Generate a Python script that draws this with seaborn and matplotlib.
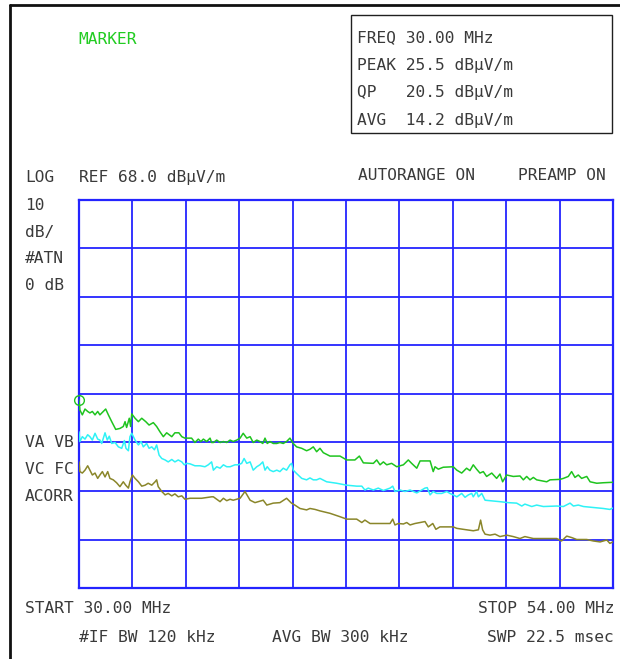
import numpy as np
import pandas as pd
import matplotlib
matplotlib.use("Agg")
import matplotlib.pyplot as plt
from matplotlib.lines import Line2D
from matplotlib.patches import Rectangle
import seaborn as sns

# ---------------- data ----------------
ref_level = 68.0          # dBuV/m, top of screen
db_per_div = 10
n_ydiv = 8
f_start, f_stop = 30.0, 54.0
n_xdiv = 10

peak_freq = [30.00, 30.04, 30.15, 30.27, 30.39, 30.49, 30.60, 30.72, 30.84, 30.94,
             31.09, 31.20, 31.32, 31.47, 31.65, 31.84, 31.99, 32.07, 32.14, 32.26,
             32.32, 32.37, 32.52, 32.67, 32.82, 33.00, 33.15, 33.34, 33.49, 33.64,
             33.79, 33.94, 34.17, 34.31, 34.49, 34.62, 34.76, 35.06, 35.21, 35.36,
             35.48, 35.59, 35.74, 35.89, 35.96, 36.04, 36.19, 36.34, 36.49, 36.64,
             36.79, 36.93, 37.09, 37.24, 37.38, 37.54, 37.69, 37.83, 37.99, 38.13,
             38.26, 38.36, 38.46, 38.58, 38.73, 38.89, 39.03, 39.18, 39.33, 39.48,
             39.63, 39.78, 40.01, 40.23, 40.38, 40.53, 40.68, 40.83, 40.98, 41.28,
             41.73, 42.03, 42.40, 42.60, 42.78, 43.23, 43.38, 43.53, 43.68, 43.83,
             44.05, 44.28, 44.58, 44.80, 44.95, 45.18, 45.33, 45.78, 45.92, 46.00,
             46.15, 46.37, 46.82, 46.98, 47.20, 47.42, 47.57, 47.72, 47.87, 48.02,
             48.17, 48.32, 48.55, 48.77, 48.92, 49.04, 49.22, 49.52, 49.82, 49.97,
             50.12, 50.27, 50.42, 50.57, 51.02, 51.17, 51.62, 51.77, 51.99, 52.14,
             52.29, 52.44, 52.59, 52.82, 52.97, 53.27, 53.56, 54.00]
peak_level = [26.8, 24.7, 23.7, 24.9, 24.4, 24.1, 24.4, 23.7, 24.4, 23.7,
              24.4, 24.9, 23.7, 22.3, 20.7, 20.9, 21.3, 22.3, 21.1, 23.0,
              21.3, 23.9, 23.0, 22.3, 23.0, 22.3, 21.6, 22.1, 21.3, 20.2,
              19.2, 20.0, 19.2, 20.0, 20.0, 19.2, 18.9, 18.9, 18.0, 18.7,
              18.2, 18.7, 18.2, 18.9, 18.0, 18.0, 18.5, 18.0, 18.2, 18.0,
              18.5, 18.2, 18.5, 18.9, 19.9, 18.9, 19.2, 18.0, 18.5, 18.2,
              17.8, 18.9, 17.8, 18.2, 17.8, 17.8, 18.0, 17.8, 18.2, 18.9,
              17.8, 17.1, 16.8, 16.3, 16.6, 17.1, 16.1, 16.8, 15.9, 15.2,
              15.2, 14.4, 14.4, 15.2, 13.8, 13.7, 14.4, 13.4, 14.0, 13.4,
              13.7, 13.0, 13.4, 14.4, 13.7, 12.7, 14.2, 14.2, 12.0, 13.0,
              12.5, 12.9, 13.0, 12.3, 11.7, 12.7, 12.2, 13.4, 12.5, 11.7,
              12.0, 11.0, 11.7, 10.6, 11.5, 9.9, 11.3, 11.0, 11.1, 10.3,
              11.0, 10.3, 10.8, 10.3, 9.9, 10.3, 10.4, 10.6, 11.0, 12.0,
              10.8, 11.3, 10.6, 11.0, 9.9, 9.6, 9.7, 9.8]

qp_freq = [30.00, 30.04, 30.15, 30.27, 30.39, 30.49, 30.60, 30.72, 30.84, 30.94,
           31.02, 31.17, 31.27, 31.36, 31.47, 31.62, 31.77, 31.92, 32.04, 32.11,
           32.22, 32.29, 32.37, 32.52, 32.67, 32.79, 32.89, 33.04, 33.15, 33.27,
           33.39, 33.49, 33.60, 33.72, 33.87, 34.01, 34.17, 34.31, 34.46, 34.62,
           34.73, 34.84, 34.99, 35.21, 35.44, 35.66, 35.81, 35.96, 36.04, 36.19,
           36.34, 36.49, 36.64, 36.79, 37.01, 37.16, 37.31, 37.42, 37.54, 37.69,
           37.83, 37.99, 38.13, 38.26, 38.36, 38.46, 38.58, 38.73, 38.89, 39.03,
           39.18, 39.33, 39.48, 39.56, 39.63, 39.78, 40.01, 40.23, 40.38, 40.53,
           40.68, 40.83, 41.13, 41.58, 42.03, 42.48, 42.71, 42.85, 43.00, 43.23,
           43.45, 43.68, 43.98, 44.10, 44.20, 44.43, 44.65, 44.88, 45.18, 45.40,
           45.55, 45.65, 45.78, 45.92, 46.08, 46.30, 46.53, 46.67, 46.82, 46.98,
           47.20, 47.35, 47.50, 47.65, 47.72, 47.87, 47.95, 48.10, 48.25, 48.47,
           48.92, 49.29, 49.67, 49.90, 50.04, 50.35, 50.57, 50.87, 51.47, 51.77,
           52.07, 52.22, 52.44, 52.67, 53.11, 53.56, 53.86, 54.00]
qp_level = [20.2, 18.2, 19.2, 18.7, 19.6, 19.2, 18.5, 19.9, 18.7, 18.5,
            17.8, 20.0, 18.5, 19.3, 17.8, 18.0, 17.1, 16.8, 18.4, 16.8,
            16.3, 19.2, 19.9, 18.5, 17.5, 18.2, 17.1, 17.8, 16.8, 17.1,
            16.5, 17.5, 15.4, 14.7, 14.4, 14.0, 14.5, 14.0, 14.4, 14.0,
            13.4, 13.7, 13.6, 13.2, 13.2, 13.0, 13.4, 14.0, 12.3, 13.0,
            12.7, 13.4, 13.0, 13.0, 13.4, 13.4, 13.7, 14.7, 13.7, 14.0,
            12.3, 13.0, 13.4, 14.0, 12.3, 13.0, 12.3, 12.0, 12.3, 12.0,
            12.7, 12.3, 13.4, 13.7, 12.3, 11.6, 10.6, 10.3, 10.7, 10.3,
            10.3, 10.6, 9.9, 9.6, 9.2, 9.0, 9.0, 8.2, 8.6, 8.2,
            8.6, 8.1, 8.6, 9.0, 7.9, 8.2, 7.9, 8.2, 7.6, 8.2,
            8.6, 8.7, 7.2, 7.9, 7.5, 7.5, 7.9, 7.5, 7.2, 6.8,
            7.5, 6.7, 7.2, 7.5, 6.8, 7.9, 6.8, 7.5, 6.1, 6.0,
            5.8, 5.6, 5.5, 4.9, 5.3, 4.8, 5.1, 4.8, 4.9, 4.8,
            5.5, 4.9, 5.1, 4.8, 4.6, 4.4, 4.2, 4.5]

avg_freq = [30.00, 30.04, 30.15, 30.27, 30.39, 30.49, 30.60, 30.72, 30.84, 30.94,
            31.05, 31.17, 31.29, 31.39, 31.54, 31.69, 31.84, 31.99, 32.10, 32.22,
            32.29, 32.40, 32.52, 32.67, 32.82, 32.97, 33.11, 33.27, 33.42, 33.49,
            33.56, 33.72, 33.87, 34.01, 34.17, 34.31, 34.46, 34.62, 34.76, 34.99,
            35.51, 35.96, 36.04, 36.19, 36.34, 36.49, 36.64, 36.79, 36.93, 37.24,
            37.46, 37.69, 37.91, 38.28, 38.44, 38.73, 39.03, 39.33, 39.55, 39.70,
            39.93, 40.23, 40.38, 40.61, 40.83, 41.28, 41.73, 42.03, 42.48, 42.71,
            42.85, 43.08, 43.38, 43.98, 44.10, 44.20, 44.35, 44.58, 44.73, 44.88,
            45.10, 45.33, 45.55, 45.70, 45.90, 46.04, 46.22, 46.53, 46.82, 46.98,
            47.27, 47.72, 47.95, 48.05, 48.14, 48.25, 48.47, 48.70, 48.92, 49.22,
            49.52, 49.82, 50.04, 50.42, 50.87, 51.47, 51.69, 51.92, 52.14, 52.37,
            52.82, 53.11, 53.42, 53.72, 53.86, 54.00]
avg_level = [14.0, 12.0, 11.7, 12.3, 13.2, 12.3, 11.3, 11.7, 10.6, 11.3,
             12.0, 10.9, 12.0, 10.6, 10.3, 9.7, 8.9, 9.9, 9.2, 8.6,
             9.9, 11.3, 10.6, 9.9, 9.0, 9.2, 9.6, 9.2, 9.9, 10.3,
             8.9, 7.9, 7.2, 7.5, 7.0, 7.4, 6.8, 7.0, 6.3, 6.5,
             6.5, 6.8, 6.8, 6.3, 5.8, 6.5, 6.0, 6.3, 6.1, 6.5,
             7.9, 6.1, 5.6, 6.1, 5.1, 5.5, 5.6, 6.5, 5.5, 5.1,
             4.4, 4.1, 4.4, 4.2, 3.9, 3.4, 2.7, 2.2, 2.2, 1.5,
             2.0, 1.3, 1.3, 1.3, 2.2, 1.0, 1.3, 1.2, 1.5, 1.0,
             1.3, 1.5, 1.7, 0.6, 1.3, 0.1, 0.6, 0.6, 0.6, 0.3,
             0.1, -0.2, 0.0, 2.0, 0.0, -0.9, -1.1, -0.9, -1.4, -1.1,
             -1.4, -1.8, -1.4, -1.8, -1.8, -1.8, -2.3, -1.3, -1.6, -2.0,
             -2.0, -2.3, -2.5, -2.1, -2.8, -2.5]

marker_freq = 30.00
marker_level = 26.8

header_left = "MARKER"
marker_box_lines = ["FREQ 30.00 MHz", "PEAK 25.5 dB\u00b5V/m",
                    "QP   20.5 dB\u00b5V/m", "AVG  14.2 dB\u00b5V/m"]
left_labels = ["10", "dB/", "#ATN", "0 dB"]
trace_labels = ["VA VB", "VC FC", "ACORR"]

# ---------------- figure ----------------
sns.set_style("white")
plt.rcParams["font.family"] = ["DejaVu Sans Mono", "DejaVu Sans"]

W, H = 620, 659
fig = plt.figure(figsize=(W / 100, H / 100), dpi=100)
fig.patch.set_facecolor("white")

def fx(px):
    return px / W

def fy(py):
    return 1 - py / H

ax = fig.add_axes([fx(79), fy(588), fx(613) - fx(79), (588 - 200) / H])
ax.set_facecolor("white")

GREEN = "#1fc41f"
CYAN = "#2ef2f6"
OLIVE = "#8a862a"
GRID = "#2424ff"
TXT = "#3a3a3a"

df = pd.concat([
    pd.DataFrame({"freq": peak_freq, "level": peak_level, "det": "PEAK"}),
    pd.DataFrame({"freq": qp_freq, "level": qp_level, "det": "QP"}),
    pd.DataFrame({"freq": avg_freq, "level": avg_level, "det": "AVG"}),
])
sns.lineplot(data=df, x="freq", y="level", hue="det",
             palette={"PEAK": GREEN, "QP": CYAN, "AVG": OLIVE},
             estimator=None, linewidth=1.1, legend=False, ax=ax, zorder=3)

ax.plot([marker_freq], [marker_level], marker="o", markersize=7,
        markerfacecolor="none", markeredgecolor=GREEN, markeredgewidth=1.0,
        clip_on=False, zorder=4)

bottom = ref_level - db_per_div * n_ydiv
ax.set_xlim(f_start, f_stop)
ax.set_ylim(bottom, ref_level)
ax.set_xticks(np.linspace(f_start, f_stop, n_xdiv + 1))
ax.set_yticks(np.linspace(bottom, ref_level, n_ydiv + 1))
ax.grid(True, color=GRID, linewidth=1.3, zorder=1)
ax.tick_params(length=0, labelbottom=False, labelleft=False)
ax.set_xlabel("")
ax.set_ylabel("")
for s in ax.spines.values():
    s.set_color(GRID)
    s.set_linewidth(1.6)
    s.set_visible(True)

# ---------------- texts ----------------
FS = 11.7
def t(px, py, s, color=TXT, ha="left"):
    fig.text(fx(px), fy(py), s, fontsize=FS, color=color, ha=ha, va="baseline")

t(78, 44, header_left, color="#22cc22")
for i, s in enumerate(marker_box_lines):
    t(357, 42 + i * 27.7, s)
fig.add_artist(Rectangle((fx(351), fy(133)), fx(612) - fx(351), (133 - 15) / H,
                         transform=fig.transFigure, fill=False,
                         edgecolor="#202020", linewidth=1.0))

t(25, 182, "LOG")
t(79, 182, "REF 68.0 dB\u00b5V/m")
t(358, 180, "AUTORANGE ON")
t(518, 180, "PREAMP ON")
for i, s in enumerate(left_labels):
    t(25, 210 + i * 26.7, s)
for i, s in enumerate(trace_labels):
    t(25, 447 + i * 27, s)

t(25, 613, "START 30.00 MHz")
t(614, 613, "STOP 54.00 MHz", ha="right")
t(79, 642, "#IF BW 120 kHz")
t(272, 642, "AVG BW 300 kHz")
t(614, 642, "SWP 22.5 msec", ha="right")

# outer frame (top and left edges)
fig.add_artist(Line2D([fx(10), 1.0], [fy(5), fy(5)], transform=fig.transFigure,
                      color="#111111", linewidth=2.0))
fig.add_artist(Line2D([fx(10), fx(10)], [fy(5), 0.0], transform=fig.transFigure,
                      color="#111111", linewidth=2.0))

fig.savefig("out.png", dpi=100)
